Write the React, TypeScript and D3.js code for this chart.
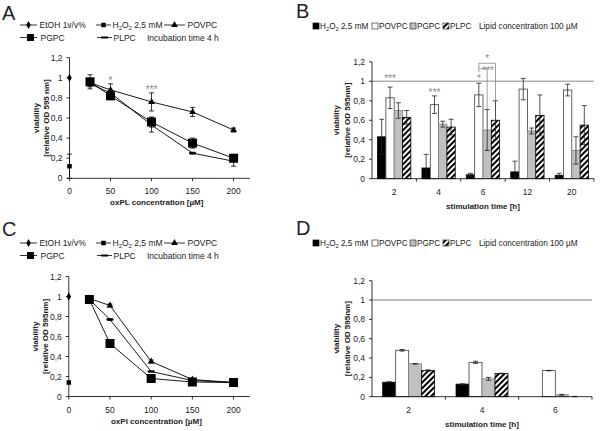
import React from 'react';
import * as d3 from 'd3';

// ---------- shared ----------
const yTicks = [0, 0.2, 0.4, 0.6, 0.8, 1, 1.2];
const concentrations = [25, 50, 100, 150, 200];
const concTicks = [0, 50, 100, 150, 200];

// ---------- Panel A (line) ----------
const aEtOH = 1.0;
const aH2O2 = 0.12;
const aH2O2Err = 0.12;
const aPOVPC = [0.95, 0.88, 0.76, 0.66, 0.48];
const aPOVPCErr = [0.03, 0.06, 0.09, 0.045, 0.02];
const aPGPC = [0.96, 0.82, 0.56, 0.35, 0.2];
const aPGPCErr = [0.07, 0.02, 0.05, 0.05, 0.02];
const aPLPC = [0.94, 0.85, 0.53, 0.25, 0.17];
const aPLPCErr = [0.03, 0.02, 0.07, 0.01, 0.05];
const aStars = [
  { x: 50, y: 0.998, text: '*' },
  { x: 100, y: 0.905, text: '***' },
];

// ---------- Panel C (line) ----------
const cEtOH = 1.0;
const cH2O2 = 0.14;
const cH2O2Err = 0.0;
const cPOVPC = [0.98, 0.91, 0.35, 0.17, 0.14];
const cPOVPCErr = [0.01, 0.015, 0.015, 0.005, 0.005];
const cPGPC = [0.97, 0.53, 0.18, 0.145, 0.14];
const cPGPCErr = [0.01, 0.03, 0.01, 0.01, 0.01];
const cPLPC = [0.97, 0.77, 0.25, 0.16, 0.14];
const cPLPCErr = [0.005, 0.01, 0.005, 0.005, 0.005];

// ---------- Panel B (bars) ----------
const bTimes = ['2', '4', '6', '12', '20'];
const bH2O2 = [0.43, 0.11, 0.04, 0.07, 0.035];
const bH2O2Err = [0.18, 0.14, 0.015, 0.11, 0.02];
const bPOVPC = [0.83, 0.76, 0.86, 0.92, 0.91];
const bPOVPCErr = [0.11, 0.09, 0.12, 0.11, 0.06];
const bPGPC = [0.7, 0.56, 0.5, 0.49, 0.29];
const bPGPCErr = [0.08, 0.03, 0.21, 0.03, 0.14];
const bPLPC = [0.63, 0.53, 0.6, 0.65, 0.55];
const bPLPCErr = [0.07, 0.08, 0.2, 0.21, 0.2];

// ---------- Panel D (bars) ----------
const dTimes = ['2', '4', '6'];
const dH2O2 = [0.15, 0.13, 0];
const dH2O2Err = [0.005, 0.003, 0];
const dPOVPC = [0.48, 0.355, 0.27];
const dPOVPCErr = [0.008, 0.012, 0.003];
const dPGPC = [0.34, 0.185, 0.02];
const dPGPCErr = [0.003, 0.015, 0.004];
const dPLPC = [0.27, 0.24, 0.0];
const dPLPCErr = [0.008, 0.003, 0.003];

const barSeries = ['H2O2', 'POVPC', 'PGPC', 'PLPC'];
const barFills = ['#000000', '#ffffff', '#c0c0c0', 'url(#hatch)'];
const barStrokes = ['#000000', '#404040', '#808080', '#000000'];

const FONT = 'Liberation Sans, Arial, Helvetica, sans-serif';
const fmt = (t: number) => String(+t.toFixed(1)).replace('.', ',');

const H2O2Label = ({ rest }: { rest: string }) => (
  <>
    H<tspan fontSize="70%" dy={1.5}>2</tspan>
    <tspan dy={-1.5}>O</tspan>
    <tspan fontSize="70%" dy={1.5}>2</tspan>
    <tspan dy={-1.5}>{rest}</tspan>
  </>
);

// ---------- markers ----------
function Marker({ kind, x, y, big }: { kind: string; x: number; y: number; big?: boolean }) {
  if (kind === 'diamond') {
    return <path d={d3.symbol(d3.symbolDiamond, 18)() as string} transform={`translate(${x},${y})`} fill="#000" />;
  }
  if (kind === 'triangle') {
    return <path d={d3.symbol(d3.symbolTriangle, 20)() as string} transform={`translate(${x},${y})`} fill="#000" />;
  }
  if (kind === 'square') {
    const s = big ? 9 : 4.5;
    return <rect x={x - s / 2} y={y - s / 2} width={s} height={s} fill="#000" />;
  }
  if (kind === 'dash') {
    return <rect x={x - 3.5} y={y - 1} width={7} height={2} fill="#000" />;
  }
  return null;
}

function ErrBar({ x, yTop, yBot, cap, color }: { x: number; yTop: number; yBot: number; cap: number; color: string }) {
  return (
    <g stroke={color} strokeWidth={0.8}>
      <line x1={x} x2={x} y1={yTop} y2={yBot} />
      <line x1={x - cap / 2} x2={x + cap / 2} y1={yTop} y2={yTop} />
      <line x1={x - cap / 2} x2={x + cap / 2} y1={yBot} y2={yBot} />
    </g>
  );
}

// ---------- line panel ----------
type LineProps = {
  letter: string;
  letterY: number;
  legendY: number;
  xr: [number, number];
  yr: [number, number];
  xTitle: string;
  yTitle2: string;
  etoh: number;
  h2o2: number;
  h2o2Err: number;
  povpc: number[];
  povpcErr: number[];
  pgpc: number[];
  pgpcErr: number[];
  plpc: number[];
  plpcErr: number[];
  stars: { x: number; y: number; text: string }[];
};

function LinePanel(p: LineProps) {
  const xs = d3.scaleLinear().domain([0, 220]).range(p.xr);
  const ys = d3.scaleLinear().domain([0, 1.2]).range(p.yr);
  const line = d3
    .line<number>()
    .x((_, i) => xs(concentrations[i]))
    .y((d) => ys(d));
  const series = [
    { vals: p.povpc, errs: p.povpcErr, kind: 'triangle', big: false },
    { vals: p.plpc, errs: p.plpcErr, kind: 'dash', big: false },
    { vals: p.pgpc, errs: p.pgpcErr, kind: 'square', big: true },
  ];
  const x0 = xs(0);
  const yMid = (ys(0) + ys(1.2)) / 2;
  const ly1 = p.legendY;
  const ly2 = p.legendY + 12.5;
  return (
    <g>
      <text x={2} y={p.letterY} fontSize={20} fill="#222">{p.letter}</text>
      {/* legend */}
      <g fontSize={8.5} fill="#222">
        <line x1={20} x2={37} y1={ly1 - 3} y2={ly1 - 3} stroke="#000" strokeWidth={0.8} />
        <Marker kind="diamond" x={28.5} y={ly1 - 3} />
        <text x={39.5} y={ly1}>EtOH 1v/v%</text>
        <line x1={96} x2={111} y1={ly1 - 3} y2={ly1 - 3} stroke="#000" strokeWidth={0.8} />
        <Marker kind="square" x={103.5} y={ly1 - 3} />
        <text x={112.5} y={ly1}><H2O2Label rest=" 2,5 mM" /></text>
        <line x1={164} x2={185} y1={ly1 - 3} y2={ly1 - 3} stroke="#000" strokeWidth={0.8} />
        <Marker kind="triangle" x={174.5} y={ly1 - 3} />
        <text x={187.5} y={ly1}>POVPC</text>
        <line x1={20} x2={37} y1={ly2 - 3} y2={ly2 - 3} stroke="#000" strokeWidth={0.8} />
        <rect x={27} y={ly2 - 6.5} width={7} height={7} fill="#000" />
        <text x={40.5} y={ly2}>PGPC</text>
        <line x1={97} x2={112} y1={ly2 - 3} y2={ly2 - 3} stroke="#000" strokeWidth={0.8} />
        <Marker kind="dash" x={104.5} y={ly2 - 3} />
        <text x={113.5} y={ly2}>PLPC</text>
        <text x={147} y={ly2}>Incubation time 4 h</text>
      </g>
      {/* axes */}
      <g stroke="#000" strokeWidth={0.8}>
        <line x1={x0} x2={x0} y1={ys(0)} y2={ys(1.2)} />
        <line x1={x0} x2={xs(220)} y1={ys(0)} y2={ys(0)} />
        {yTicks.map((t) => (
          <line key={t} x1={x0 - 3} x2={x0} y1={ys(t)} y2={ys(t)} />
        ))}
        {concTicks.map((t) => (
          <line key={t} x1={xs(t)} x2={xs(t)} y1={ys(0)} y2={ys(0) + 3} />
        ))}
      </g>
      <g fontSize={8.5} fill="#222">
        {yTicks.map((t) => (
          <text key={t} x={x0 - 7} y={ys(t) + 3} textAnchor="end">{fmt(t)}</text>
        ))}
        {concTicks.map((t) => (
          <text key={t} x={xs(t)} y={ys(0) + 16} textAnchor="middle">{t}</text>
        ))}
      </g>
      <text x={(xs(0) + xs(220)) / 2 - 3} y={ys(0) + 27} fontSize={8} fontWeight="bold" textAnchor="middle" fill="#222">{p.xTitle}</text>
      <g fontSize={8} fontWeight="bold" fill="#222" textAnchor="middle">
        <text transform={`translate(${x0 - 31},${yMid}) rotate(-90)`}>viability</text>
        <text transform={`translate(${x0 - 21},${yMid}) rotate(-90)`}>{p.yTitle2}</text>
      </g>
      {/* series lines */}
      {series.map((s, i) => (
        <path key={i} d={line(s.vals) as string} fill="none" stroke="#000" strokeWidth={0.9} />
      ))}
      {/* error bars */}
      {series.map((s, i) =>
        s.vals.map((v, j) =>
          s.errs[j] > 0.004 ? (
            <ErrBar key={`${i}-${j}`} x={xs(concentrations[j])} yTop={ys(v + s.errs[j])} yBot={ys(v - s.errs[j])} cap={5} color="#000" />
          ) : null
        )
      )}
      {p.h2o2Err > 0 && (
        <ErrBar x={x0} yTop={ys(p.h2o2 + p.h2o2Err)} yBot={ys(p.h2o2 - p.h2o2Err)} cap={5} color="#000" />
      )}
      {series.map((s, i) =>
        s.vals.map((v, j) => <Marker key={`${i}-${j}`} kind={s.kind} big={s.big} x={xs(concentrations[j])} y={ys(v)} />)
      )}
      <Marker kind="diamond" x={x0} y={ys(p.etoh)} />
      <Marker kind="square" x={x0} y={ys(p.h2o2)} />
      <g fontSize={10} fill="#888" textAnchor="middle">
        {p.stars.map((s, i) => (
          <text key={i} x={xs(s.x)} y={ys(s.y) + 5.5}>{s.text}</text>
        ))}
      </g>
    </g>
  );
}

// ---------- bar panel ----------
type BarProps = {
  letter: string;
  letterY: number;
  legendY: number;
  times: string[];
  xr: [number, number];
  yr: [number, number];
  pad: number;
  values: number[][];
  errs: number[][];
  refColor: string;
  refWidth: number;
  extra?: (xb: d3.ScaleBand<string>, xi: d3.ScaleBand<string>, ys: d3.ScaleLinear<number, number>) => React.ReactNode;
};

function BarPanel(p: BarProps) {
  const xb = d3.scaleBand<string>().domain(p.times).range(p.xr);
  const bw = xb.bandwidth();
  const xi = d3.scaleBand<string>().domain(barSeries).range([bw * p.pad, bw * (1 - p.pad)]);
  const ys = d3.scaleLinear().domain([0, 1.2]).range(p.yr);
  const x0 = p.xr[0];
  const x1 = p.xr[1];
  const yMid = (ys(0) + ys(1.2)) / 2;
  const ly = p.legendY;
  const sq = (x: number, i: number) => (
    <rect x={x} y={ly - 6} width={6} height={6} fill={barFills[i]} stroke={i === 0 ? '#000' : '#333'} strokeWidth={0.7} />
  );
  return (
    <g>
      <text x={296} y={p.letterY} fontSize={20} fill="#222">{p.letter}</text>
      <g fontSize={8.2} fill="#222">
        {sq(313, 0)}
        <text x={320} y={ly}><H2O2Label rest=" 2,5 mM" /></text>
        {sq(372, 1)}
        <text x={379} y={ly}>POVPC</text>
        {sq(410, 2)}
        <text x={417} y={ly}>PGPC</text>
        {sq(443, 3)}
        <text x={450} y={ly}>PLPC</text>
        <text x={479} y={ly}>Lipid concentration 100 µM</text>
      </g>
      {/* reference line */}
      <line x1={x0} x2={x1} y1={ys(1)} y2={ys(1)} stroke={p.refColor} strokeWidth={p.refWidth} />
      {/* bars */}
      {p.times.map((t, ti) =>
        barSeries.map((s, si) => {
          const v = p.values[si][ti];
          if (v <= 0) return null;
          const x = (xb(t) as number) + (xi(s) as number);
          return (
            <rect key={`${t}-${s}`} x={x} y={ys(v)} width={xi.bandwidth()} height={ys(0) - ys(v)} fill={barFills[si]} stroke={barStrokes[si]} strokeWidth={0.8} />
          );
        })
      )}
      {p.times.map((t, ti) =>
        barSeries.map((s, si) => {
          const v = p.values[si][ti];
          const e = p.errs[si][ti];
          if (e <= 0) return null;
          const cx = (xb(t) as number) + (xi(s) as number) + xi.bandwidth() / 2;
          return <ErrBar key={`e${t}-${s}`} x={cx} yTop={ys(v + e)} yBot={ys(Math.max(0, v - e))} cap={5} color="#222" />;
        })
      )}
      {/* axes */}
      <g stroke="#000" strokeWidth={0.8}>
        <line x1={x0} x2={x0} y1={ys(0)} y2={ys(1.2)} />
        <line x1={x0} x2={x1} y1={ys(0)} y2={ys(0)} />
        {yTicks.map((t) => (
          <line key={t} x1={x0 - 3} x2={x0} y1={ys(t)} y2={ys(t)} />
        ))}
        {p.times.map((t) => (
          <line key={t} x1={(xb(t) as number) + bw} x2={(xb(t) as number) + bw} y1={ys(0)} y2={ys(0) + 3} />
        ))}
      </g>
      <g fontSize={8.5} fill="#222">
        {yTicks.map((t) => (
          <text key={t} x={x0 - 7} y={ys(t) + 3} textAnchor="end">{fmt(t)}</text>
        ))}
        {p.times.map((t) => (
          <text key={t} x={(xb(t) as number) + bw / 2} y={ys(0) + 16.5} textAnchor="middle">{t}</text>
        ))}
      </g>
      <text x={(x0 + x1) / 2} y={ys(0) + 30} fontSize={8} fontWeight="bold" textAnchor="middle" fill="#222">stimulation time [h]</text>
      <g fontSize={8} fontWeight="bold" fill="#222" textAnchor="middle">
        <text transform={`translate(${x0 - 33},${yMid}) rotate(-90)`}>viability</text>
        <text transform={`translate(${x0 - 22},${yMid}) rotate(-90)`}>[relative OD 595nm]</text>
      </g>
      {p.extra && p.extra(xb, xi, ys)}
    </g>
  );
}

const bExtra = (xb: d3.ScaleBand<string>, xi: d3.ScaleBand<string>, ys: d3.ScaleLinear<number, number>) => {
  const c = (t: string, s: string) => (xb(t) as number) + (xi(s) as number) + xi.bandwidth() / 2;
  const gray = '#888';
  const w2 = c('2', 'POVPC');
  const w4 = c('4', 'POVPC');
  const w6 = c('6', 'POVPC');
  const g6 = c('6', 'PGPC');
  const h6 = c('6', 'PLPC');
  return (
    <g>
      <g fontSize={10} fill={gray} textAnchor="middle">
        <text x={w2} y={ys(1.05) + 5.5}>***</text>
        <text x={w4} y={ys(0.91) + 5.5}>***</text>
        <text x={w6} y={ys(1.045) + 5.5}>*</text>
        <text x={g6 + 1} y={ys(1.13) + 5.5}>***</text>
        <text x={(w6 + h6) / 2} y={ys(1.25) + 5.5}>*</text>
      </g>
      <g stroke={gray} strokeWidth={0.8} fill="none">
        <polyline points={`${w6},${ys(1.09)} ${w6},${ys(1.185)} ${h6},${ys(1.185)} ${h6},${ys(0.8)}`} />
        <polyline points={`${w6},${ys(1.13)} ${g6},${ys(1.13)} ${g6},${ys(0.71)}`} />
      </g>
    </g>
  );
};

export default function App() {
  return (
    <svg
      width={600}
      height={431}
      viewBox="0 0 600 431"
      style={{ position: 'absolute', left: 0, top: 0, background: '#fff' }}
      fontFamily={FONT}
    >
      <defs>
        <pattern id="hatch" width={4} height={4} patternUnits="userSpaceOnUse" patternTransform="rotate(45)">
          <rect width={4} height={4} fill="#fff" />
          <line x1={1} y1={0} x2={1} y2={4} stroke="#000" strokeWidth={2} />
        </pattern>
      </defs>
      <rect width={600} height={431} fill="#fff" />
      <LinePanel
        letter="A"
        letterY={20}
        legendY={28}
        xr={[69.5, 250]}
        yr={[178.3, 57.7]}
        xTitle="oxPL concentration [µM]"
        yTitle2="[relative OD 595 nm]"
        etoh={aEtOH}
        h2o2={aH2O2}
        h2o2Err={aH2O2Err}
        povpc={aPOVPC}
        povpcErr={aPOVPCErr}
        pgpc={aPGPC}
        pgpcErr={aPGPCErr}
        plpc={aPLPC}
        plpcErr={aPLPCErr}
        stars={aStars}
      />
      <LinePanel
        letter="C"
        letterY={236}
        legendY={246}
        xr={[68.8, 250]}
        yr={[396.5, 276.5]}
        xTitle="oxPl concentration [µM]"
        yTitle2="[relative OD 595nm]"
        etoh={cEtOH}
        h2o2={cH2O2}
        h2o2Err={cH2O2Err}
        povpc={cPOVPC}
        povpcErr={cPOVPCErr}
        pgpc={cPGPC}
        pgpcErr={cPGPCErr}
        plpc={cPLPC}
        plpcErr={cPLPCErr}
        stars={[]}
      />
      <BarPanel
        letter="B"
        letterY={18}
        legendY={29}
        times={bTimes}
        xr={[372, 594]}
        yr={[178.7, 61.8]}
        pad={0.125}
        values={[bH2O2, bPOVPC, bPGPC, bPLPC]}
        errs={[bH2O2Err, bPOVPCErr, bPGPCErr, bPLPCErr]}
        refColor="#b0b0b0"
        refWidth={1.5}
        extra={bExtra}
      />
      <BarPanel
        letter="D"
        letterY={235}
        legendY={246}
        times={dTimes}
        xr={[372, 592]}
        yr={[396.7, 280.7]}
        pad={0.146}
        values={[dH2O2, dPOVPC, dPGPC, dPLPC]}
        errs={[dH2O2Err, dPOVPCErr, dPGPCErr, dPLPCErr]}
        refColor="#555"
        refWidth={0.8}
      />
    </svg>
  );
}
